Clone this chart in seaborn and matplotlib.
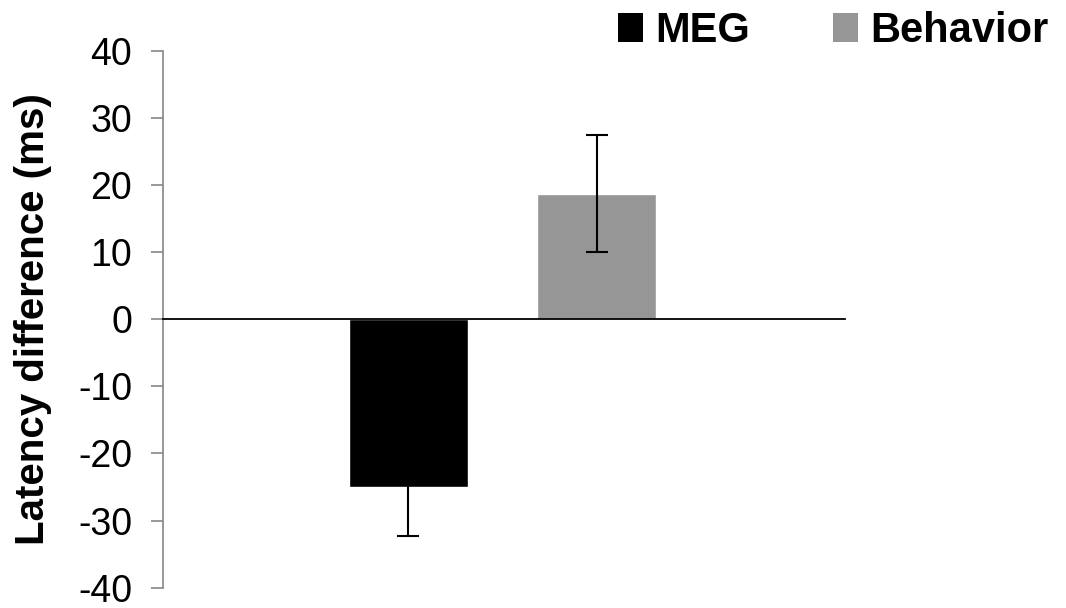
import matplotlib
matplotlib.use("Agg")
import matplotlib.pyplot as plt
import seaborn as sns
import pandas as pd
from matplotlib.patches import Patch

conditions = ["MEG", "Behavior"]
latency_diff = [-25.0, 18.7]
sem = [7.3, 8.7]
bar_colors = ["#000000", "#969696"]
y_ticks = [-40, -30, -20, -10, 0, 10, 20, 30, 40]

sns.set_theme(style="white")
plt.rcParams["font.family"] = ["Liberation Sans", "DejaVu Sans"]
plt.rcParams["text.color"] = "black"
plt.rcParams["axes.labelcolor"] = "black"
plt.rcParams["ytick.labelcolor"] = "black"

df = pd.DataFrame({"condition": conditions, "value": latency_diff})

fig = plt.figure(figsize=(10.66, 6.08), dpi=100)
ax = fig.add_axes([0.1529, 0.0334, 0.6398, 0.8832])

sns.barplot(data=df, x="condition", y="value", hue="condition",
            palette=bar_colors, width=0.631, errorbar=None, legend=False,
            saturation=1, ax=ax, zorder=2)

ax.errorbar(range(len(conditions)), latency_diff, yerr=sem, fmt="none",
            ecolor="black", elinewidth=1.5, capsize=8, capthick=1.5, zorder=4)

ax.set_xlim(-1.302, 2.316)
ax.set_ylim(-40, 40)
ax.set_yticks(y_ticks)
ax.set_yticklabels([str(t) for t in y_ticks], fontsize=27, color="black")
ax.set_xticks([])
ax.set_xlabel("")
ax.set_ylabel("Latency difference (ms)", fontsize=29, fontweight="bold", color="black")
ax.yaxis.set_label_coords(-0.163, 0.5)

for s in ["top", "right"]:
    ax.spines[s].set_visible(False)
ax.spines["left"].set_color("#868686")
ax.spines["left"].set_linewidth(1.2)
ax.spines["bottom"].set_position(("data", 0))
ax.spines["bottom"].set_color("black")
ax.spines["bottom"].set_linewidth(1.3)
ax.spines["bottom"].set_zorder(3)
ax.tick_params(axis="y", direction="out", length=8.6, width=1.2, color="#868686", pad=13.5, left=True)

handles = [Patch(facecolor=c, edgecolor="none") for c in bar_colors]
fig.legend(handles, conditions, loc="upper right", bbox_to_anchor=(1.019, 1.043),
           ncol=2, frameon=False, prop={"size": 30, "weight": "bold"},
           handlelength=0.6, handleheight=0.7, handletextpad=0.29, columnspacing=2.0,
           labelcolor="black")

fig.savefig("out.png", dpi=100)
